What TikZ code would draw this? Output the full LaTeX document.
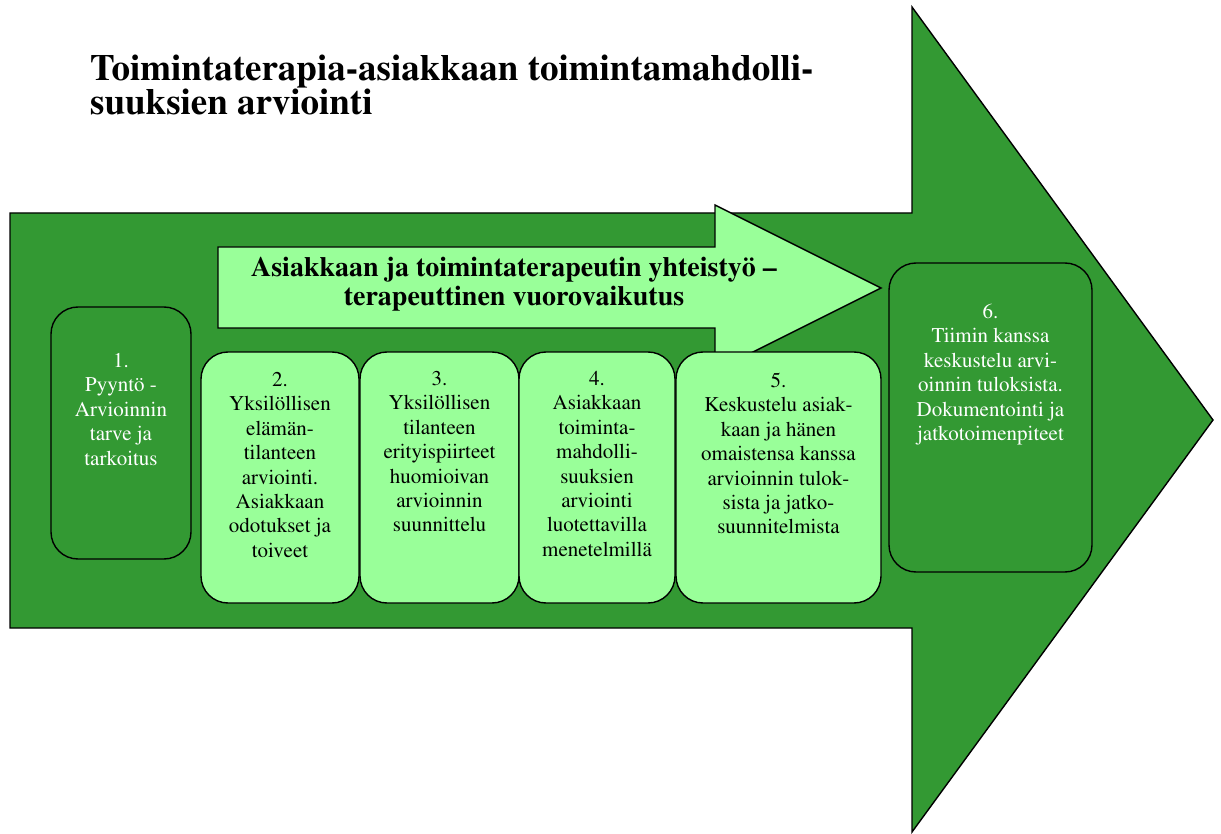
\documentclass[tikz,border=0pt]{standalone}
\usepackage[T1]{fontenc}
\usepackage{times}
\usepackage{tikz}
\usetikzlibrary{positioning}

\definecolor{arrowgreen}{HTML}{339933}
\definecolor{stagelight}{HTML}{99FF99}

\tikzset{
  stage/.style={draw=black, line width=1.4pt, rounded corners=27pt, inner sep=0pt, outer sep=0pt},
  stagetext/.style={align=center, inner sep=0pt, font=\fontsize{21}{24.4}\selectfont},
}

\begin{document}
\begin{tikzpicture}[x=1pt,y=-1pt]
        \useasboundingbox[fill=white] (0,0) rectangle (1221,834);
        % Main arrow
        \draw[fill=arrowgreen, line width=1.4pt, line join=miter]
          (10,213) -- (912,213) -- (912,7) -- (1213,420) -- (912,832) -- (912,628) -- (10,628) -- cycle;
        % Inner arrow
        \draw[fill=stagelight, line width=1.4pt]
          (218,247) -- (715,247) -- (715,205) -- (881,288) -- (715,371) -- (715,328) -- (218,328) -- cycle;
        \node[align=center, inner sep=0pt, anchor=north, font=\bfseries\fontsize{28}{29}\selectfont] (coop) at (514,257)
          {Asiakkaan ja toimintaterapeutin yhteisty\"o --\\terapeuttinen vuorovaikutus};
        % Stages
        \node[stage, fill=arrowgreen, minimum width=140pt, minimum height=252pt] (s1) at (121,433) {};
        \node[stage, fill=stagelight, minimum width=158pt, minimum height=251pt] (s2) at (280,477.5) {};
        \node[stage, fill=stagelight, minimum width=159pt, minimum height=251pt, right=1pt of s2] (s3) {};
        \node[stage, fill=stagelight, minimum width=156pt, minimum height=251pt, right=0pt of s3] (s4) {};
        \node[stage, fill=stagelight, minimum width=205pt, minimum height=251pt, right=1pt of s4] (s5) {};
        \node[stage, fill=arrowgreen, minimum width=203pt, minimum height=309pt] (s6) at (990.5,417.5) {};
        \node[stagetext, text=white, below=46pt of s1.north] (t1) {1.\\Pyynt\"o -\\Arvioinnin\\tarve ja\\tarkoitus};
        \node[stagetext, below=20pt of s2.north] (t2) {2.\\Yksil\"ollisen\\el\"am\"an-\\tilanteen\\arviointi.\\Asiakkaan\\odotukset ja\\toiveet};
        \node[stagetext, below=19pt of s3.north] (t3) {3.\\Yksil\"ollisen\\tilanteen\\erityispiirteet\\huomioivan\\arvioinnin\\suunnittelu};
        \node[stagetext, below=19pt of s4.north] (t4) {4.\\Asiakkaan\\toiminta-\\mahdolli-\\suuksien\\arviointi\\luotettavilla\\menetelmill\"a};
        \node[stagetext, below=21pt of s5.north] (t5) {5.\\Keskustelu asiak-\\kaan ja h\"anen\\omaistensa kanssa\\arvioinnin tulok-\\sista ja jatko-\\suunnitelmista};
        \node[stagetext, text=white, below=41pt of s6.north] (t6) {6.\\Tiimin kanssa\\keskustelu arvi-\\oinnin tuloksista.\\Dokumentointi ja\\jatkotoimenpiteet};
        % Title
        \node[anchor=north west, align=left, inner sep=0pt, font=\bfseries\fontsize{37}{34}\selectfont] (title) at (90,55)
          {Toimintaterapia-asiakkaan toimintamahdolli-\\suuksien arviointi};
      \end{tikzpicture}
\end{document}
